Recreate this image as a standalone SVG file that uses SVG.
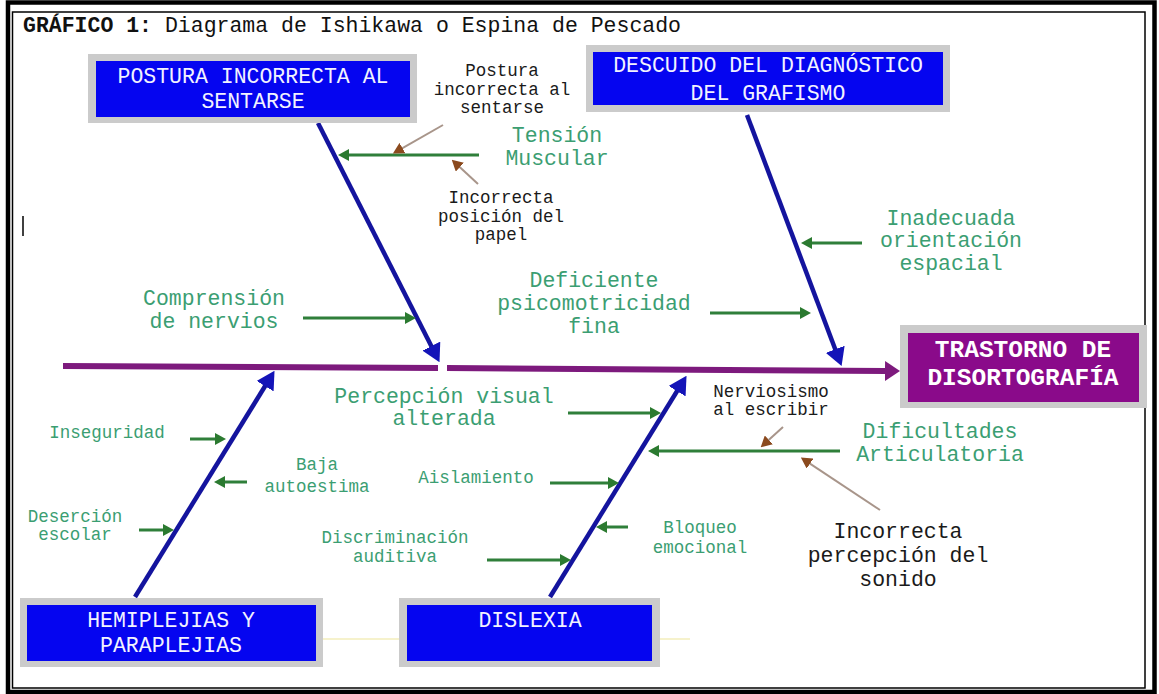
<svg xmlns="http://www.w3.org/2000/svg" width="1159" height="694" viewBox="0 0 1159 694">
<style>
text{font-family:"Liberation Mono","Courier New",monospace}
.title{font-size:21.5px;fill:#111}
.bx{font-size:21.5px;fill:#f2f2ff;text-anchor:middle}
.hd{font-size:24.5px;font-weight:bold;fill:#ffffff;text-anchor:middle}
.gL{font-size:21.5px;fill:#3b9e72;text-anchor:middle}
.gS{font-size:17.5px;fill:#3b9e72;text-anchor:middle}
.kL{font-size:21.5px;fill:#1a1a1a;text-anchor:middle}
.kS{font-size:17.5px;fill:#1a1a1a;text-anchor:middle}
.gray{fill:#cbcbcb}
.blue{fill:#0505f0}
.bone{stroke:#14149e;stroke-width:4.5;fill:none}
.grn{stroke:#2f7f3a;stroke-width:3;fill:none}
.brn{stroke:#a8958a;stroke-width:2;fill:none}
</style>
<defs>
<marker id="mb" viewBox="0 -10 18 20" refX="1" refY="0" markerWidth="18" markerHeight="20" markerUnits="userSpaceOnUse" orient="auto"><path d="M0,-10 L18,0 L0,10 z" fill="#1414b8"/></marker>
<marker id="mg" viewBox="0 -6 11 12" refX="1" refY="0" markerWidth="11" markerHeight="12" markerUnits="userSpaceOnUse" orient="auto"><path d="M0,-6 L11,0 L0,6 z" fill="#2b7a30"/></marker>
<marker id="mr" viewBox="0 -6 11 12" refX="1" refY="0" markerWidth="11" markerHeight="12" markerUnits="userSpaceOnUse" orient="auto"><path d="M0,-6 L11,0 L0,6 z" fill="#8b4a1e"/></marker>
<marker id="mp" viewBox="0 -10 15 20" refX="1" refY="0" markerWidth="15" markerHeight="20" markerUnits="userSpaceOnUse" orient="auto"><path d="M0,-10 L15,0 L0,10 z" fill="#7d1a7d"/></marker>
</defs>
<rect x="0" y="0" width="1159" height="694" fill="#ffffff"/>
<g id="frame" fill="none" stroke="#000">
<rect x="8" y="2.5" width="1146.5" height="689.5" stroke-width="4.5"/>
<rect x="12.5" y="12" width="1132.5" height="676" stroke-width="1.5"/>
<line x1="23" y1="216" x2="23" y2="236" stroke-width="1.5"/>
</g>
<text class="title" x="23" y="32"><tspan font-weight="bold">GRÁFICO 1:</tspan> Diagrama de Ishikawa o Espina de Pescado</text>
<g id="connectors">
<line x1="323" y1="639" x2="399" y2="639" stroke="#f3eebb" stroke-width="1.5"/>
<line x1="660" y1="639" x2="690" y2="639" stroke="#f3eebb" stroke-width="1.5"/>
<line x1="63" y1="366" x2="438" y2="368" stroke="#7d1a7d" stroke-width="6"/>
<line x1="447" y1="368" x2="886" y2="371" stroke="#7d1a7d" stroke-width="6" marker-end="url(#mp)"/>
<line class="bone" x1="318" y1="123" x2="431.8" y2="347" marker-end="url(#mb)"/>
<line class="bone" x1="747" y1="115" x2="835.6" y2="350.2" marker-end="url(#mb)"/>
<line class="bone" x1="135" y1="597" x2="265.6" y2="385.3" marker-end="url(#mb)"/>
<line class="bone" x1="550" y1="597" x2="677.6" y2="390.3" marker-end="url(#mb)"/>
<line class="grn" x1="479" y1="155" x2="348" y2="155" marker-end="url(#mg)"/>
<line class="grn" x1="303" y1="318" x2="406" y2="318" marker-end="url(#mg)"/>
<line class="grn" x1="862" y1="243" x2="811" y2="243" marker-end="url(#mg)"/>
<line class="grn" x1="710" y1="313" x2="801" y2="313" marker-end="url(#mg)"/>
<line class="grn" x1="568" y1="413" x2="651" y2="413" marker-end="url(#mg)"/>
<line class="grn" x1="550" y1="483" x2="609" y2="483" marker-end="url(#mg)"/>
<line class="grn" x1="487" y1="560" x2="561" y2="560" marker-end="url(#mg)"/>
<line class="grn" x1="628" y1="527" x2="606" y2="527" marker-end="url(#mg)"/>
<line class="grn" x1="840" y1="451" x2="658" y2="451" marker-end="url(#mg)"/>
<line class="grn" x1="190" y1="439" x2="216" y2="439" marker-end="url(#mg)"/>
<line class="grn" x1="247" y1="482" x2="224" y2="482" marker-end="url(#mg)"/>
<line class="grn" x1="139" y1="530" x2="164" y2="530" marker-end="url(#mg)"/>
<line class="brn" x1="443" y1="125" x2="401.6" y2="148.6" marker-end="url(#mr)"/>
<line class="brn" x1="478" y1="184" x2="459.1" y2="166.5" marker-end="url(#mr)"/>
<line class="brn" x1="783" y1="427" x2="768.1" y2="440.6" marker-end="url(#mr)"/>
<line class="brn" x1="880" y1="510" x2="809.2" y2="463.1" marker-end="url(#mr)"/>
</g>
<g id="postura">
<rect class="gray" x="88" y="54" width="329" height="69"/>
<rect class="blue" x="96" y="61" width="314" height="56"/>
<text class="bx" x="253" y="83">POSTURA INCORRECTA AL</text>
<text class="bx" x="253" y="108">SENTARSE</text>
</g>
<g id="descuido">
<rect class="gray" x="586" y="45" width="364" height="67"/>
<rect class="blue" x="593" y="52" width="350" height="53"/>
<text class="bx" x="768" y="72">DESCUIDO DEL DIAGNÓSTICO</text>
<text class="bx" x="768" y="100">DEL GRAFISMO</text>
</g>
<g id="hemiplejias">
<rect class="gray" x="20" y="598" width="303" height="69"/>
<rect class="blue" x="27" y="605" width="289" height="56"/>
<text class="bx" x="171" y="627">HEMIPLEJIAS Y</text>
<text class="bx" x="171" y="652">PARAPLEJIAS</text>
</g>
<g id="dislexia">
<rect class="gray" x="399" y="598" width="261" height="69"/>
<rect class="blue" x="407" y="605" width="245" height="56"/>
<text class="bx" x="530" y="627">DISLEXIA</text>
</g>
<g id="trastorno">
<rect class="gray" x="900" y="325" width="247" height="83"/>
<rect x="908" y="333" width="231" height="69" fill="#8a0a8a"/>
<text class="hd" x="1023" y="357">TRASTORNO DE</text>
<text class="hd" x="1023" y="385">DISORTOGRAFÍA</text>
</g>
<g id="labels">
<text class="kS" x="502"><tspan x="502" y="76">Postura</tspan><tspan x="502" y="95">incorrecta al</tspan><tspan x="502" y="113">sentarse</tspan></text>
<text class="gL"><tspan x="557" y="142">Tensión</tspan><tspan x="557" y="165">Muscular</tspan></text>
<text class="kS"><tspan x="501" y="203">Incorrecta</tspan><tspan x="501" y="222">posición del</tspan><tspan x="501" y="240">papel</tspan></text>
<text class="gL"><tspan x="951" y="225">Inadecuada</tspan><tspan x="951" y="247">orientación</tspan><tspan x="951" y="270">espacial</tspan></text>
<text class="gL"><tspan x="594" y="287">Deficiente</tspan><tspan x="594" y="310">psicomotricidad</tspan><tspan x="594" y="333">fina</tspan></text>
<text class="gL"><tspan x="214" y="305">Comprensión</tspan><tspan x="214" y="328">de nervios</tspan></text>
<text class="gL"><tspan x="444" y="403">Percepción visual</tspan><tspan x="444" y="425">alterada</tspan></text>
<text class="kS"><tspan x="771" y="397">Nerviosismo</tspan><tspan x="771" y="415">al escribir</tspan></text>
<text class="gL"><tspan x="940" y="438">Dificultades</tspan><tspan x="940" y="461">Articulatoria</tspan></text>
<text class="gS" x="107" y="438" font-size="19.5">Inseguridad</text>
<text class="gS"><tspan x="317" y="470">Baja</tspan><tspan x="317" y="492">autoestima</tspan></text>
<text class="gS" x="476" y="483">Aislamiento</text>
<text class="gS"><tspan x="75" y="522">Deserción</tspan><tspan x="75" y="540">escolar</tspan></text>
<text class="gS"><tspan x="395" y="543">Discriminación</tspan><tspan x="395" y="562">auditiva</tspan></text>
<text class="gS"><tspan x="700" y="533">Bloqueo</tspan><tspan x="700" y="553">emocional</tspan></text>
<text class="kL"><tspan x="898" y="538">Incorrecta</tspan><tspan x="898" y="562">percepción del</tspan><tspan x="898" y="586">sonido</tspan></text>
</g>
</svg>
